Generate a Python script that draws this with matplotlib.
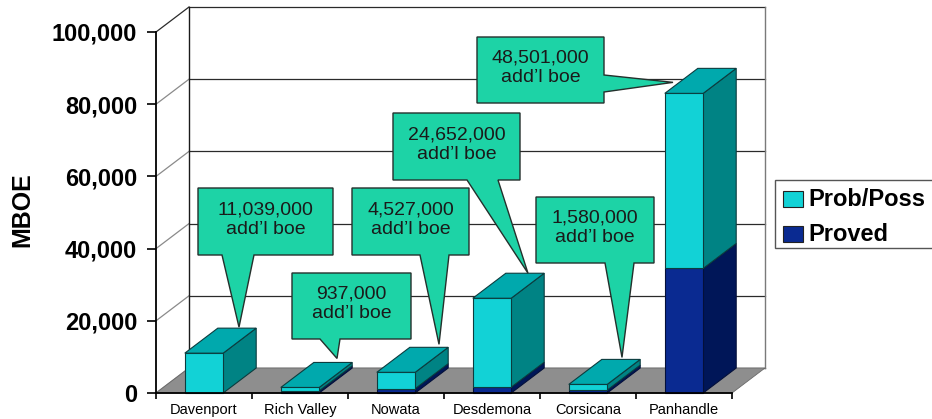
import matplotlib
matplotlib.use("Agg")

import numpy as np
import matplotlib.pyplot as plt
from matplotlib.patches import Polygon, Rectangle
from matplotlib.ticker import FuncFormatter


# ================= DATA =================
CATEGORIES = ["Davenport", "Rich Valley", "Nowata", "Desdemona", "Corsicana", "Panhandle"]
PROVED = [0, 600, 1200, 1600, 800, 34500]          # MBOE
PROB_POSS = [11039, 937, 4527, 24652, 1580, 48501]  # MBOE
Y_TICKS = [0, 20000, 40000, 60000, 80000, 100000]
LEGEND_LABELS = ["Prob/Poss", "Proved"]
# ========================================

# ================= LAYOUT (pixels of the 932x419 picture) =================
W, H = 932, 419
FRONT_LEFT, FRONT_RIGHT = 156, 732
FRONT_BOTTOM, FRONT_TOP = 393, 32
DEPTH_PX = (33, 25)
BAR_W = 0.40

# box (x0, y0, x1, y1), pointer side, pointer base, tip offset in px
CALLOUTS = [
    ((198, 188, 333, 255), "bottom", (222, 254), (2, -1)),
    ((292, 273, 411, 339), "bottom", (320, 340), (4, -4)),
    ((352, 188, 469, 255), "bottom", (420, 449), (10, -3)),
    ((393, 113, 520, 180), "bottom", (467, 498), (3, 0)),
    ((536, 197, 654, 263), "bottom", (605, 634), (1, -2)),
    ((477, 37, 604, 103), "right", (75, 92), (-44, 14)),
]

FONT = "Liberation Sans"
CYAN = dict(front="#12d2d6", top="#00a9ad", side="#008384", edge="#0c3c3e")
NAVY = dict(front="#0a2a91", top="#0a2484", side="#001658", edge="#04103a")
CALLOUT_FILL = "#1dd3a6"
FLOOR = "#8e8e8e"


def fx(px):
    return px / W


def fy(py):
    return 1 - py / H


def draw_walls(ax, dx, dy):
    x0, x1 = -0.5, len(CATEGORIES) - 0.5
    for v in Y_TICKS:
        ax.plot([x0 + dx, x1 + dx], [v + dy, v + dy], color="#2a2a2a", lw=0.9,
                clip_on=False, zorder=1)
        side_col = "#2a2a2a" if v == Y_TICKS[-1] else "#8a8a8a"
        ax.plot([x0, x0 + dx], [v, v + dy], color=side_col, lw=0.9,
                clip_on=False, zorder=1)
    ax.plot([x0 + dx, x0 + dx], [dy, Y_TICKS[-1] + dy], color="#1a1a1a", lw=1.0,
            clip_on=False, zorder=1)
    ax.plot([x1 + dx, x1 + dx], [dy, Y_TICKS[-1] + dy], color="#7a7a7a", lw=1.0,
            clip_on=False, zorder=1)

    floor = Polygon([(x0, 0), (x1, 0), (x1 + dx, dy), (x0 + dx, dy)],
                    closed=True, facecolor=FLOOR, edgecolor="#6a6a6a", lw=0.6,
                    clip_on=False, zorder=2)
    ax.add_patch(floor)


def draw_box(ax, c, bottom, top, dx, dy, col, with_top):
    l, r = c - BAR_W / 2, c + BAR_W / 2
    kw = dict(closed=True, edgecolor=col["edge"], lw=0.8, clip_on=False, zorder=3)
    ax.add_patch(Polygon([(r, bottom), (r + dx, bottom + dy), (r + dx, top + dy), (r, top)],
                         facecolor=col["side"], **kw))
    ax.add_patch(Polygon([(l, bottom), (r, bottom), (r, top), (l, top)],
                         facecolor=col["front"], **kw))
    if with_top:
        ax.add_patch(Polygon([(l, top), (r, top), (r + dx, top + dy), (l + dx, top + dy)],
                             facecolor=col["top"], **kw))


def draw_bars(ax, dx, dy):
    for i, (p, q) in enumerate(zip(PROVED, PROB_POSS)):
        if p > 0:
            draw_box(ax, i, 0, p, dx, dy, NAVY, with_top=False)
        draw_box(ax, i, p, p + q, dx, dy, CYAN, with_top=True)


def draw_callouts(fig, ax, dx, dy):
    inv = fig.transFigure.inverted()
    for i, (box, side, base, off) in enumerate(CALLOUTS):
        top = PROVED[i] + PROB_POSS[i]
        disp = ax.transData.transform((i + dx, top + dy))
        tx, ty = inv.transform(disp)
        tx += off[0] / W
        ty -= off[1] / H
        x0, y0, x1, y1 = box
        if side == "bottom":
            pts = [(fx(x0), fy(y0)), (fx(x1), fy(y0)), (fx(x1), fy(y1)),
                   (fx(base[1]), fy(y1)), (tx, ty), (fx(base[0]), fy(y1)),
                   (fx(x0), fy(y1))]
        else:
            pts = [(fx(x0), fy(y0)), (fx(x1), fy(y0)), (fx(x1), fy(base[0])),
                   (tx, ty), (fx(x1), fy(base[1])), (fx(x1), fy(y1)),
                   (fx(x0), fy(y1))]
        fig.patches.append(Polygon(pts, closed=True, transform=fig.transFigure,
                                   facecolor=CALLOUT_FILL, edgecolor="#24302c",
                                   lw=1.0, zorder=5))
        label = f"{PROB_POSS[i] * 1000:,}\nadd\u2019l boe"
        fig.text(fx((x0 + x1) / 2), fy((y0 + y1) / 2 - 2), label, ha="center",
                 va="center", fontsize=14, family=FONT, color="#1a1a1a",
                 linespacing=1.2, zorder=6)


def draw_legend(fig):
    fig.patches.append(Rectangle((fx(775), fy(248)), fx(950) - fx(775), fy(180) - fy(248),
                                 transform=fig.transFigure, facecolor="white",
                                 edgecolor="#555555", lw=1.0, zorder=5))
    for k, (lab, col) in enumerate(zip(LEGEND_LABELS, [CYAN, NAVY])):
        yc = 199 + 35 * k
        fig.patches.append(Rectangle((fx(783), fy(yc + 8)), fx(803) - fx(783),
                                     fy(yc - 8) - fy(yc + 8), transform=fig.transFigure,
                                     facecolor=col["front"], edgecolor="#222222",
                                     lw=0.8, zorder=6))
        fig.text(fx(808), fy(yc), lab, ha="left", va="center", fontsize=17,
                 fontweight="bold", family=FONT, color="black", zorder=6)


def main():
    fig = plt.figure(figsize=(W / 100, H / 100), dpi=100)
    ax = fig.add_axes([fx(FRONT_LEFT), fy(FRONT_BOTTOM),
                       fx(FRONT_RIGHT) - fx(FRONT_LEFT), fy(FRONT_TOP) - fy(FRONT_BOTTOM)])
    n = len(CATEGORIES)
    ax.set_xlim(-0.5, n - 0.5)
    ax.set_ylim(0, Y_TICKS[-1])
    ax.patch.set_alpha(0)

    # depth offset in data units
    dx = DEPTH_PX[0] * n / (FRONT_RIGHT - FRONT_LEFT)
    dy = DEPTH_PX[1] * Y_TICKS[-1] / (FRONT_BOTTOM - FRONT_TOP)

    draw_walls(ax, dx, dy)
    draw_bars(ax, dx, dy)

    for s in ["top", "right"]:
        ax.spines[s].set_visible(False)
    for s in ["left", "bottom"]:
        ax.spines[s].set_color("black")
        ax.spines[s].set_linewidth(1.3)
        ax.spines[s].set_zorder(4)

    ax.set_yticks(Y_TICKS)
    ax.yaxis.set_major_formatter(FuncFormatter(lambda v, _: f"{v:,.0f}"))
    ax.tick_params(axis="y", length=6.5, width=1.2, pad=7, labelsize=17)
    for t in ax.get_yticklabels():
        t.set_fontweight("bold")
        t.set_family(FONT)

    ax.set_xticks(np.arange(n + 1) - 0.5)
    ax.set_xticklabels([])
    ax.set_xticks(np.arange(n), minor=True)
    ax.set_xticklabels(CATEGORIES, minor=True, fontsize=10.5, family=FONT)
    ax.tick_params(axis="x", which="major", length=4.5, width=1.2, direction="out")
    ax.tick_params(axis="x", which="minor", length=0, pad=7)

    fig.text(fx(22), fy(210), "MBOE", rotation=90, ha="center", va="center",
             fontsize=18, fontweight="bold", family=FONT)

    draw_callouts(fig, ax, dx, dy)
    draw_legend(fig)

    fig.savefig("out.png", dpi=100, facecolor="white")
    plt.close(fig)


if __name__ == "__main__":
    main()
